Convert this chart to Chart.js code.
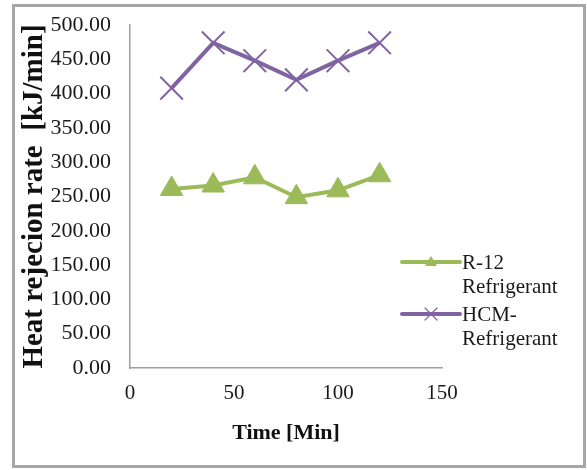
<!DOCTYPE html>
<html>
<head>
<meta charset="utf-8">
<script src="https://cdn.jsdelivr.net/npm/chart.js@4.4.1/dist/chart.umd.min.js"></script>
<style>
  html, body { margin: 0; padding: 0; background: #fff; }
  #box {
    position: absolute; left: 12px; top: 4px;
    width: 568px; height: 458px;
    border: 3px solid #a6a6a6;
  }
</style>
</head>
<body>
<div id="box"><canvas id="chart"></canvas></div>
<script>
// ---- data ----
const timeMin = [20, 40, 60, 80, 100, 120];
const r12Values = [261, 266, 278, 249, 259, 281];
const hcmValues = [408, 474, 448, 420, 448, 474];
const seriesNames = [["R-12", "Refrigerant"], ["HCM-", "Refrigerant"]];
const xTicks = [0, 50, 100, 150];
const yTickStep = 50;

const GREEN = "#9bbb59";
const PURPLE = "#8064a2";
const serif = "'Liberation Serif', 'Times New Roman', serif";

// ---- legend on the right (multi-line labels) ----
const sideLegend = {
    id: "sideLegend",
    afterDraw(chart) {
        const ctx = chart.ctx;
        const x0 = 387, x1 = 445;
        const rows = [255, 307];
        chart.data.datasets.forEach((ds, i) => {
            const y = rows[i];
            ctx.save();
            ctx.strokeStyle = ds.borderColor;
            ctx.lineWidth = 4;
            ctx.lineCap = "round";
            ctx.beginPath();
            ctx.moveTo(x0, y);
            ctx.lineTo(x1, y);
            ctx.stroke();
            const mx = (x0 + x1) / 2;
            if (ds.pointStyle === "triangle") {
                ctx.fillStyle = ds.borderColor;
                ctx.beginPath();
                ctx.moveTo(mx, y - 6);
                ctx.lineTo(mx + 6, y + 4);
                ctx.lineTo(mx - 6, y + 4);
                ctx.closePath();
                ctx.fill();
            } else {
                ctx.lineWidth = 1.2;
                ctx.beginPath();
                ctx.moveTo(mx - 6, y - 6); ctx.lineTo(mx + 6, y + 6);
                ctx.moveTo(mx + 6, y - 6); ctx.lineTo(mx - 6, y + 6);
                ctx.stroke();
            }
            ctx.fillStyle = "#1a1a1a";
            ctx.font = "21px " + serif;
            ctx.textBaseline = "middle";
            ctx.textAlign = "left";
            seriesNames[i].forEach((t, k) => ctx.fillText(t, x1 + 2, y + 1 + k * 24));
            ctx.restore();
        });
    }
};

const ctx = document.getElementById("chart").getContext("2d");
new Chart(ctx, {
    type: "line",
    data: {
        datasets: [
            {
                label: seriesNames[0].join(" "),
                data: timeMin.map((t, i) => ({ x: t, y: r12Values[i] })),
                borderColor: GREEN,
                backgroundColor: GREEN,
                borderWidth: 4,
                pointStyle: "triangle",
                pointRadius: 13,
                pointBackgroundColor: GREEN,
                pointBorderColor: GREEN,
                pointBorderWidth: 1,
                tension: 0
            },
            {
                label: seriesNames[1].join(" "),
                data: timeMin.map((t, i) => ({ x: t, y: hcmValues[i] })),
                borderColor: PURPLE,
                backgroundColor: PURPLE,
                borderWidth: 4,
                pointStyle: "crossRot",
                pointRadius: 16,
                pointBorderColor: PURPLE,
                pointBorderWidth: 2,
                tension: 0
            }
        ]
    },
    options: {
        responsive: true,
        maintainAspectRatio: false,
        animation: false,
        layout: { padding: { top: 17, right: 141, left: 0, bottom: 0 } },
        plugins: {
            legend: { display: false },
            tooltip: { enabled: false }
        },
        scales: {
            x: {
                type: "linear",
                min: 0,
                max: 150,
                afterBuildTicks: s => { s.ticks = xTicks.map(v => ({ value: v })); },
                afterFit: s => { s.height = 97; s.paddingLeft = 0; s.paddingRight = 0; },
                grid: { display: false, drawTicks: false },
                border: { display: true, color: "#9e9e9e", width: 1.5 },
                ticks: { color: "#1a1a1a", font: { family: serif, size: 21 }, padding: 13, maxRotation: 0 },
                title: {
                    display: true,
                    text: "Time [Min]",
                    color: "#111",
                    font: { family: serif, size: 22, weight: "bold" },
                    padding: { top: 8, bottom: 18 }
                }
            },
            y: {
                min: 0,
                max: 500,
                afterFit: s => { s.width = 115; s.paddingTop = 0; s.paddingBottom = 0; },
                grid: { display: false, drawTicks: false },
                border: { display: true, color: "#9e9e9e", width: 1.5 },
                ticks: {
                    stepSize: yTickStep,
                    color: "#1a1a1a",
                    font: { family: serif, size: 22 },
                    padding: 19,
                    callback: v => v.toFixed(2)
                },
                title: {
                    display: true,
                    text: "Heat rejecion rate  [kJ/min]",
                    color: "#111",
                    font: { family: serif, size: 29, weight: "bold" },
                    padding: { top: 2, bottom: 0 }
                }
            }
        }
    },
    plugins: [sideLegend]
});
</script>
</body>
</html>
